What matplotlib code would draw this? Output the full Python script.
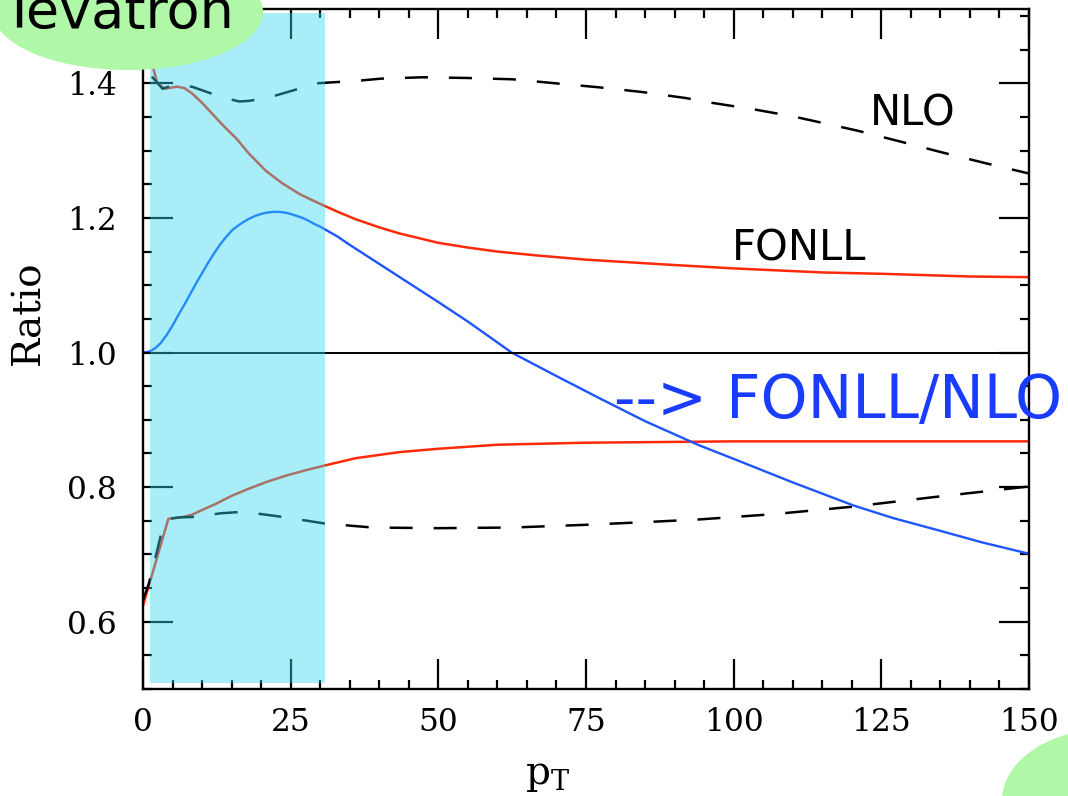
import matplotlib
matplotlib.use('Agg')
import matplotlib.pyplot as plt
from matplotlib.patches import Ellipse, Rectangle
from matplotlib.ticker import MultipleLocator, FormatStrFormatter

plt.rcParams['mathtext.fontset'] = 'dejavuserif'

# FONLL band (red), upper and lower edge
fonll_up_x = [1.0, 1.5, 2.4, 3.6, 5.8, 7.0, 8.3, 10, 11.7, 13.5, 15.8, 18, 20.8, 23.5, 26.4, 28.5, 30.7, 33, 36, 40, 43.4,
              50, 55, 60, 67, 75, 90, 100, 115, 125, 140, 150]
fonll_up_y = [1.50, 1.43, 1.401, 1.392, 1.395, 1.393, 1.385, 1.371, 1.355, 1.338, 1.318, 1.295, 1.270, 1.252, 1.236, 1.227,
              1.218, 1.209, 1.198, 1.186, 1.177, 1.163, 1.156, 1.150, 1.144, 1.138, 1.130, 1.125, 1.119, 1.117, 1.113, 1.112]
fonll_lo_x = [0, 4.3, 5.5, 7.0, 8.3, 10, 12.3, 15, 18, 21, 24.2, 27.5, 30.7, 36, 43.4, 50, 60, 75, 100, 125, 150]
fonll_lo_y = [0.624, 0.753, 0.754, 0.756, 0.759, 0.766, 0.775, 0.787, 0.798, 0.808, 0.817, 0.825, 0.832, 0.843, 0.852, 0.857,
              0.863, 0.866, 0.868, 0.868, 0.868]

# NLO band (dashed), upper and lower edge
nlo_up_x = [1.5, 3.3, 5, 8.3, 11.2, 14, 16.3, 18, 20, 22.5, 26, 29.3, 33, 36.6, 40.3, 47.3, 54.7, 62.6, 69.9, 77.3, 84.6, 92,
            95.6, 103, 110, 120.8, 128, 135, 142.8, 150]
nlo_up_y = [1.41, 1.392, 1.397, 1.395, 1.386, 1.378, 1.373, 1.374, 1.377, 1.382, 1.391, 1.400, 1.402, 1.404, 1.407, 1.409,
            1.408, 1.406, 1.400, 1.394, 1.387, 1.378, 1.372, 1.362, 1.351, 1.330, 1.314, 1.298, 1.281, 1.266]
nlo_lo_x = [0, 1.0, 2.4, 3.2, 4.4, 6.1, 9.5, 13, 16.3, 20, 24.2, 30.7, 38.8, 50, 62.6, 75, 85, 94.2, 107, 120.2, 133.7, 150]
nlo_lo_y = [0.632, 0.657, 0.706, 0.735, 0.753, 0.755, 0.756, 0.761, 0.763, 0.760, 0.755, 0.746, 0.740, 0.739, 0.740, 0.744,
            0.748, 0.752, 0.760, 0.771, 0.785, 0.801]

# central FONLL / central NLO
ratio_x = [0, 1, 2, 3, 4, 5, 6, 7, 8, 9, 10, 11, 12, 13, 14, 15, 16, 17, 18, 19, 20, 21, 22, 23, 24, 25, 26, 27, 28, 29, 30,
           31, 33, 35, 38, 41, 44, 47, 50, 55, 60, 62.4, 70, 77.3, 85, 94.2, 100, 110, 120.2, 127, 135, 142, 150]
ratio_y = [1.0, 1.001, 1.006, 1.014, 1.026, 1.040, 1.056, 1.071, 1.087, 1.103, 1.118, 1.133, 1.147, 1.160, 1.171, 1.181,
           1.188, 1.194, 1.199, 1.203, 1.206, 1.208, 1.209, 1.209, 1.208, 1.206, 1.203, 1.200, 1.196, 1.191, 1.187, 1.182,
           1.172, 1.160, 1.143, 1.126, 1.109, 1.092, 1.075, 1.046, 1.015, 1.0, 0.965, 0.932, 0.898, 0.862, 0.842, 0.807,
           0.773, 0.754, 0.735, 0.718, 0.701]

red = '#ff2a0a'
blue = '#1e55ff'

fig = plt.figure(figsize=(10.68, 7.96), dpi=100)
ax = fig.add_axes([0.1339, 0.1344, 0.8296, 0.8539])

ax.plot(fonll_up_x, fonll_up_y, color=red, lw=1.8, zorder=2)
ax.plot(fonll_lo_x, fonll_lo_y, color=red, lw=1.8, zorder=2)
ax.plot(nlo_up_x, nlo_up_y, color='black', lw=1.8, dashes=[9.2, 8.4], zorder=2)
ax.plot(nlo_lo_x, nlo_lo_y, color='black', lw=1.8, dashes=[9.2, 8.4], zorder=2)
ax.plot(ratio_x, ratio_y, color=blue, lw=1.7, zorder=2)
ax.axhline(1.0, color='black', lw=1.4, zorder=2)

# low-pT region shading, drawn on top like in the original slide
ax.add_patch(Rectangle((1.1, 0.509), 29.7, 0.995, facecolor=(0.19, 0.84, 0.93), alpha=0.42,
                       edgecolor='none', zorder=3))

ax.set_xlim(0, 150)
ax.set_ylim(0.5, 1.51)
ax.xaxis.set_major_locator(MultipleLocator(25))
ax.xaxis.set_minor_locator(MultipleLocator(5))
ax.yaxis.set_major_locator(MultipleLocator(0.2))
ax.yaxis.set_minor_locator(MultipleLocator(0.05))
ax.yaxis.set_major_formatter(FormatStrFormatter('%.1f'))
ax.tick_params(which='both', direction='in', top=True, right=True, width=1.6, colors='black')
ax.tick_params(which='major', length=21.5)
ax.tick_params(which='minor', length=6.5)
ax.tick_params(axis='x', which='major', pad=13)
ax.tick_params(axis='y', which='major', pad=19)
for lab in ax.get_xticklabels() + ax.get_yticklabels():
    lab.set_fontfamily('DejaVu Serif')
    lab.set_fontsize(22.5)
for sp in ax.spines.values():
    sp.set_linewidth(1.7)

fig.text(0.0267, 0.607, 'Ratio', rotation=90, ha='center', va='center', fontsize=28, family='DejaVu Serif')
fig.text(0.513, 0.026, r'$\mathrm{p}_\mathrm{T}$', ha='center', va='center', fontsize=28)

ax.text(123.0, 1.337, 'NLO', fontsize=30, family='DejaVu Sans', ha='left', va='baseline', zorder=4)
ax.text(99.7, 1.1365, 'FONLL', fontsize=30, family='DejaVu Sans', ha='left', va='baseline', zorder=4)
ax.text(79.8, 0.902, '--> FONLL/NLO', fontsize=43, color='#1a3cff', family='DejaVu Sans', ha='left',
        va='baseline', zorder=4, clip_on=False)

green = '#b0f8a8'
fig.add_artist(Ellipse((128 / 1068, 1 - 12 / 796), 270 / 1068, 116 / 796, facecolor=green, edgecolor='none', zorder=5))
fig.add_artist(Ellipse((1112 / 1068, 1 - 800 / 796), 220 / 1068, 144 / 796, facecolor=green, edgecolor='none', zorder=5))
fig.text(2 / 1068, 1 - 28 / 796, 'Tevatron', fontsize=39, family='DejaVu Sans', ha='left', va='baseline', zorder=6)

fig.savefig('out.png', dpi=100)
